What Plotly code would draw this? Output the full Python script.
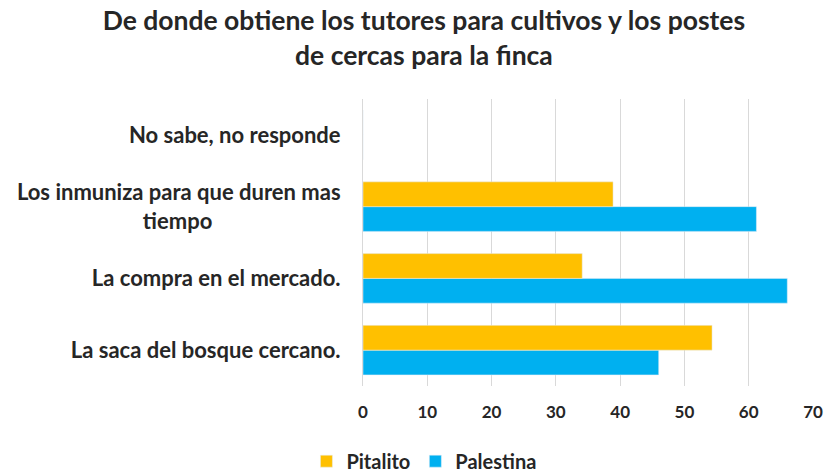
import plotly.graph_objects as go

categories = ["La saca del bosque cercano.", "La compra en el mercado.",
              "Los inmuniza para que duren mas tiempo", "No sabe, no responde"]
tick_labels = ["La saca del bosque cercano.", "La compra en el mercado.",
               "Los inmuniza para que duren mas<br>tiempo" + "\u00a0" * 24, "No sabe, no responde"]
pitalito = [54.3, 34.1, 38.9, 0]
palestina = [46.0, 66.0, 61.2, 0]
x_ticks = [0, 10, 20, 30, 40, 50, 60, 70]

FONT = "Lato"
TXT = "#262626"
fig = go.Figure()
fig.add_trace(go.Bar(y=categories, x=palestina, orientation="h", name="<b>Palestina</b>",
                     marker=dict(color="#00B0F0"), legendrank=2))
fig.add_trace(go.Bar(y=categories, x=pitalito, orientation="h", name="<b>Pitalito</b>",
                     marker=dict(color="#FFC000"), legendrank=1))

fig.update_layout(
    width=828, height=472,
    margin=dict(l=363, r=15, t=99, b=86, autoexpand=False),
    paper_bgcolor="white", plot_bgcolor="white",
    barmode="group", bargap=0.31, bargroupgap=0,
    title=dict(text="<b>De donde obtiene los tutores para cultivos y los postes<br>de cercas para la finca</b>",
               x=0.512, xanchor="center", y=0.936, yanchor="top",
               font=dict(family=FONT, size=26.5, color=TXT)),
    font=dict(family=FONT, color=TXT),
    legend=dict(orientation="h", xref="container", x=0.512, xanchor="center",
                yref="container", y=0.023, yanchor="middle",
                font=dict(family=FONT, size=20, color=TXT), itemwidth=30,
                traceorder="normal"),
    xaxis=dict(range=[0, 70], tickvals=x_ticks, ticktext=[f"<b>{v}</b>" for v in x_ticks],
               showgrid=True, gridcolor="#D9D9D9",
               gridwidth=1, zeroline=False, showline=False,
               tickfont=dict(family=FONT, size=17, color=TXT),
               ticklabelstandoff=14),
    yaxis=dict(categoryorder="array", categoryarray=categories,
               tickvals=categories, ticktext=[f"<b>{t}</b>" for t in tick_labels],
               showline=True, linecolor="#D9D9D9", linewidth=1,
               tickfont=dict(family=FONT, size=22, color=TXT),
               ticklabelstandoff=17),
)

fig.write_html("out.html", config={"displayModeBar": False},
               post_script="document.body.style.margin='0';document.body.style.overflow='hidden';")
